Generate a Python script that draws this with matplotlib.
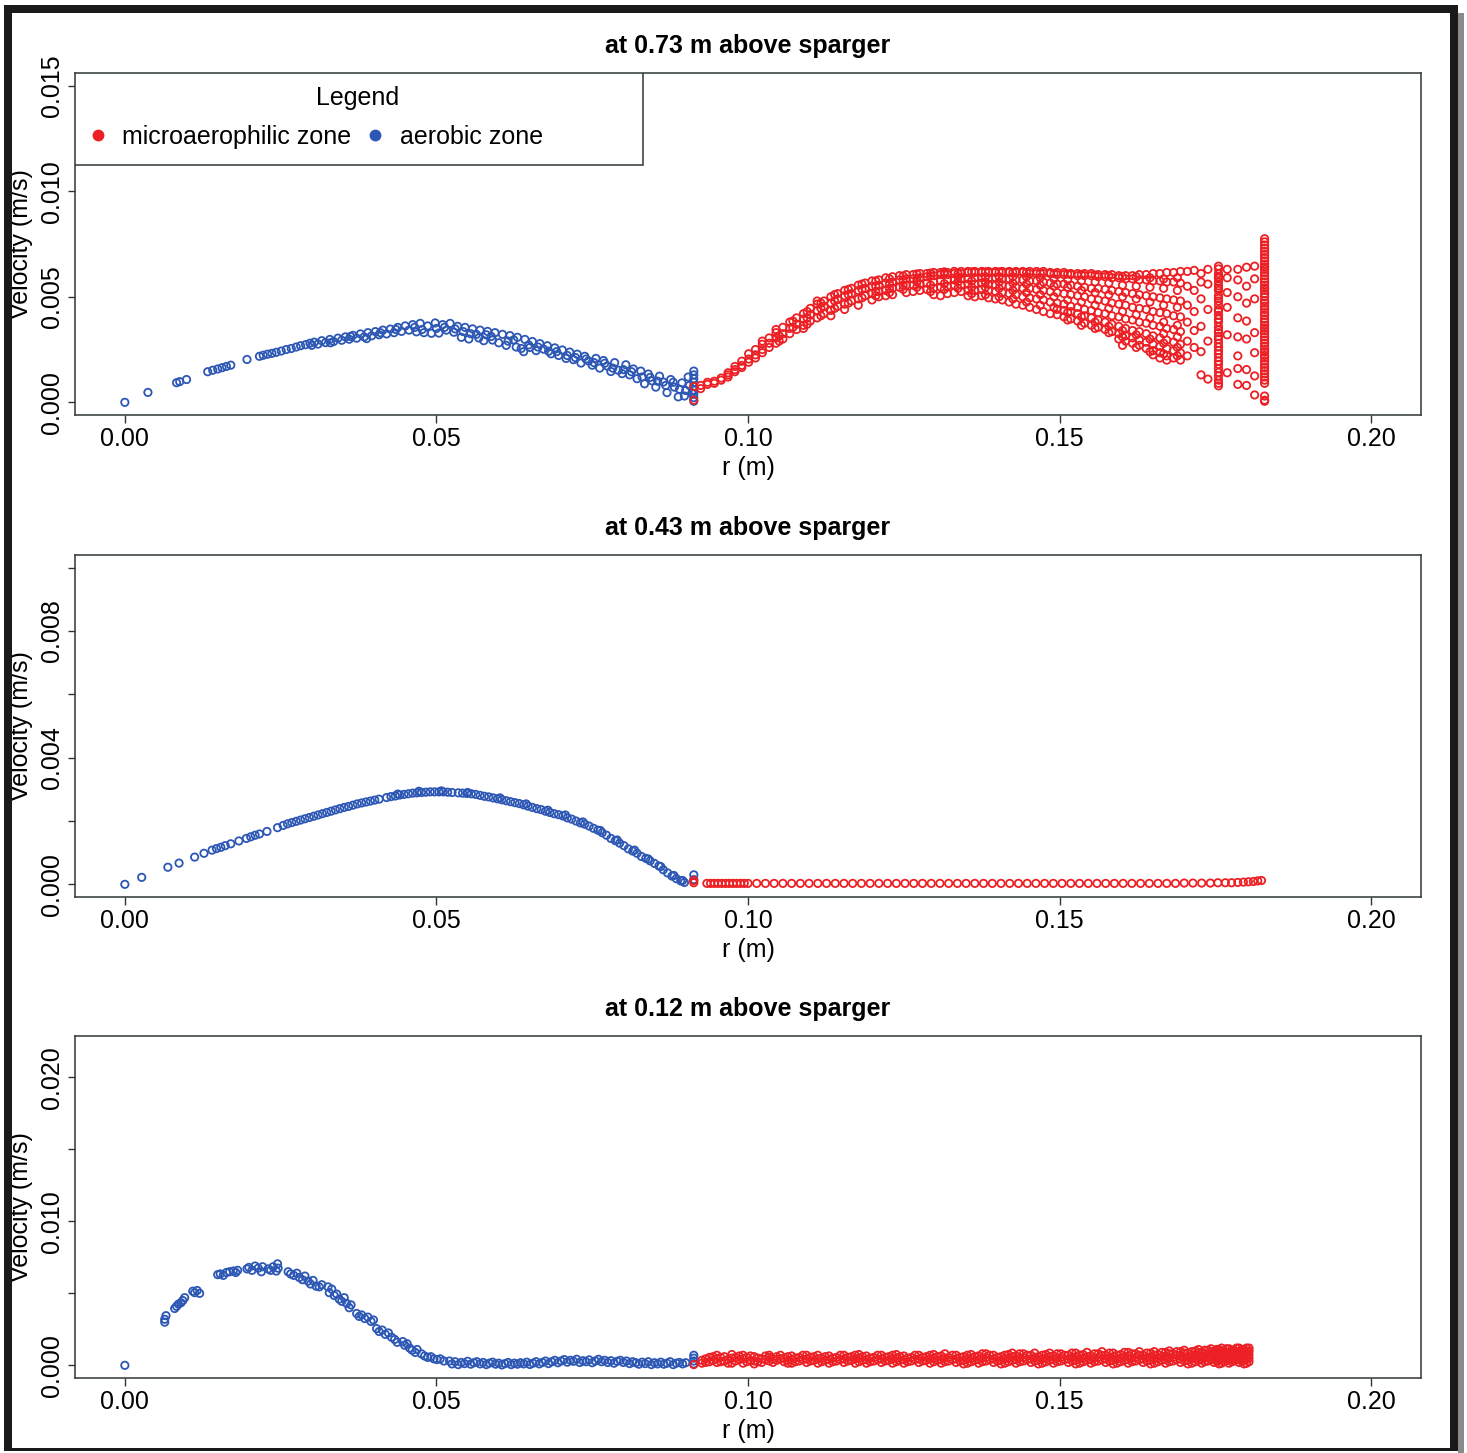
import matplotlib
matplotlib.use("Agg")
import matplotlib.pyplot as plt
from matplotlib.lines import Line2D
from matplotlib.patches import Rectangle

plt.rcParams["font.family"] = ["Liberation Sans", "DejaVu Sans"]

# radial position r in mm, axial velocity in mm/s (converted to SI when drawn)

# 0.73 m above sparger
TOP_AEROBIC = [
    (0.0, 0.00), (3.7, 0.47), (8.3, 0.93), (8.8, 0.98), (9.9, 1.08),
    (13.3, 1.45), (14.1, 1.52), (14.9, 1.58), (15.6, 1.64), (16.3, 1.70), (17.0, 1.76),
    (19.6, 2.03), (21.6, 2.18), (22.2, 2.23), (22.9, 2.28), (23.6, 2.32), (24.3, 2.37), (25.1, 2.43),
    (25.9, 2.50), (26.7, 2.55), (27.5, 2.62), (28.2, 2.68), (29.0, 2.73), (29.7, 2.80), (30.4, 2.85),
    (31.0, 2.76), (31.6, 2.92), (32.2, 2.83), (32.9, 2.98), (33.5, 2.88), (34.2, 3.04), (34.8, 2.94),
    (35.4, 3.10), (36.0, 2.99), (36.6, 3.17), (37.2, 3.04), (37.8, 3.24), (38.4, 3.10), (39.0, 3.30),
    (39.6, 3.15), (40.2, 3.35), (40.8, 3.20), (41.4, 3.42), (42.0, 3.24), (42.6, 3.47), (43.2, 3.30),
    (43.8, 3.55), (44.4, 3.36), (45.0, 3.62), (45.6, 3.42), (46.2, 3.68), (46.8, 3.34), (47.4, 3.74),
    (48.0, 3.30), (48.6, 3.62), (49.2, 3.27), (49.8, 3.76), (50.4, 3.28), (51.0, 3.68), (51.6, 3.42),
    (52.2, 3.74), (52.8, 3.32), (53.4, 3.60), (54.0, 3.08), (54.6, 3.55), (55.2, 3.00), (55.8, 3.48),
    (56.4, 3.22), (57.0, 3.42), (57.6, 2.92), (58.2, 3.36), (58.8, 3.12), (59.4, 3.30), (60.0, 2.82),
    (60.6, 3.22), (61.2, 2.70), (61.8, 3.16), (62.4, 2.96), (63.0, 3.08), (63.6, 2.55), (64.2, 2.98),
    (64.8, 2.72), (65.4, 2.88), (66.0, 2.45), (66.6, 2.78), (67.2, 2.52), (67.8, 2.68), (68.4, 2.30),
    (69.0, 2.58), (69.6, 2.22), (70.2, 2.48), (70.8, 2.08), (71.4, 2.38), (72.0, 2.02), (72.6, 2.28),
    (73.2, 1.86), (73.8, 2.18), (74.4, 1.96), (75.0, 1.76), (75.6, 2.08), (76.2, 1.62), (76.8, 1.98),
    (77.4, 1.72), (78.0, 1.46), (78.6, 1.88), (79.2, 1.52), (79.8, 1.36), (80.4, 1.78), (81.0, 1.30),
    (81.6, 1.58), (82.2, 1.12), (82.8, 1.48), (83.4, 0.88), (84.0, 1.34), (84.6, 1.02), (85.2, 0.72),
    (85.8, 1.24), (86.4, 0.96), (87.0, 0.46), (87.6, 1.08), (88.2, 0.72), (88.8, 0.26), (89.4, 0.92),
    (90.0, 0.56), (90.4, 1.20),
    (30.0, 2.70), (33.0, 2.82), (36.2, 3.12), (38.8, 3.02), (41.0, 3.30), (43.5, 3.45),
    (46.5, 3.55), (47.7, 3.45), (50.0, 3.50), (51.3, 3.55), (53.0, 3.48), (54.3, 3.35),
    (55.5, 3.25), (56.8, 3.05), (58.0, 3.20), (59.0, 2.95), (61.5, 2.90), (62.8, 2.62),
    (64.0, 2.40), (65.0, 2.60), (66.3, 2.62), (68.0, 2.42), (69.3, 2.40), (71.0, 2.22),
    (72.3, 2.12), (74.0, 2.05), (75.3, 1.88), (77.0, 1.85), (78.3, 1.62), (80.0, 1.55),
    (81.3, 1.45), (83.0, 1.20), (84.3, 1.18), (85.5, 1.00), (86.8, 0.80), (88.0, 0.95),
    (89.0, 0.62), (89.8, 0.30), (90.6, 0.80), (91.0, 0.45),
    (91.3, 0.05), (91.3, 0.22), (91.3, 0.40), (91.3, 0.58), (91.3, 0.76), (91.3, 0.95),
    (91.3, 1.12), (91.3, 1.30), (91.3, 1.48),
]

# mesh columns: (r, velocities found in that column)
TOP_MICRO = [
    (91.3, [0.10, 0.75]),
    (92.4, [0.80, 0.65]),
    (93.5, [0.85, 0.95]),
    (94.6, [1.00, 0.90]),
    (95.7, [1.15, 1.05]),
    (96.8, [1.30, 1.20, 1.40]),
    (97.9, [1.55, 1.45, 1.70]),
    (99.0, [1.75, 1.65, 1.95]),
    (100.1, [2.05, 1.90, 2.30]),
    (101.2, [2.25, 2.10, 2.50]),
    (102.3, [2.50, 2.35, 2.75, 2.90]),
    (103.4, [2.80, 2.60, 3.05]),
    (104.5, [3.05, 2.80, 3.30, 3.45]),
    (105.0, [3.15, 2.90]),
    (105.6, [3.25, 3.00, 3.55]),
    (106.7, [3.50, 3.25, 3.80]),
    (107.2, [3.55, 3.85]),
    (107.8, [3.70, 3.45, 4.00]),
    (108.9, [3.95, 3.65, 4.20, 3.50]),
    (109.5, [4.00, 4.30, 3.70]),
    (110.0, [4.15, 3.85, 4.45]),
    (111.1, [4.35, 4.00, 4.65, 4.80]),
    (111.7, [4.45, 4.10, 4.70]),
    (112.2, [4.55, 4.20, 4.80]),
    (113.3, [4.70, 4.35, 5.00, 4.10]),
    (113.9, [4.80, 4.45, 5.10]),
    (114.4, [4.90, 4.55, 5.15]),
    (115.5, [5.05, 4.65, 5.30, 4.40]),
    (116.1, [5.10, 4.70, 5.35]),
    (116.6, [5.15, 4.80, 5.40]),
    (117.7, [5.30, 4.90, 5.55, 4.60]),
    (118.3, [5.35, 4.95, 5.60]),
    (118.8, [5.40, 5.05, 5.65]),
    (119.9, [5.50, 5.15, 5.75, 4.85]),
    (120.5, [5.50, 5.05, 5.75, 5.25]),
    (121.0, [5.55, 5.25, 5.80, 5.00]),
    (122.1, [5.65, 5.30, 5.90, 5.05]),
    (122.7, [5.62, 5.20, 5.85, 5.40]),
    (123.2, [5.70, 5.40, 5.95, 5.10]),
    (124.3, [5.80, 5.45, 6.00]),
    (124.9, [5.78, 5.35, 5.98, 5.55]),
    (125.4, [5.85, 5.55, 6.05, 5.20]),
    (126.5, [5.85, 5.55, 6.05, 5.25]),
    (127.1, [5.88, 5.45, 6.08, 5.70]),
    (127.6, [5.90, 5.60, 6.10, 5.30]),
    (128.7, [5.95, 5.65, 6.10, 5.35]),
    (129.3, [5.98, 5.55, 6.12, 5.25]),
    (129.8, [6.00, 5.70, 6.15, 5.40, 5.10]),
    (130.9, [6.05, 5.75, 6.15, 5.45, 5.05]),
    (131.5, [6.08, 5.62, 6.18, 5.35]),
    (132.0, [6.05, 5.80, 6.15, 5.50, 5.15]),
    (133.1, [6.10, 5.80, 6.20, 5.55, 5.20]),
    (133.7, [6.10, 5.70, 5.40, 5.95]),
    (134.2, [6.10, 5.85, 6.20, 5.55, 5.25]),
    (135.3, [6.15, 5.85, 6.20, 5.60, 5.30, 5.05]),
    (135.9, [6.18, 5.75, 5.45, 5.15]),
    (136.4, [6.15, 5.90, 6.20, 5.60, 5.30, 5.00]),
    (137.5, [6.15, 5.90, 6.20, 5.65, 5.35, 5.05]),
    (138.1, [6.18, 5.70, 5.45, 5.10, 5.95]),
    (138.6, [6.15, 5.85, 6.20, 5.60, 5.30, 4.95]),
    (139.7, [6.15, 5.90, 6.20, 5.55, 5.25, 4.90]),
    (140.3, [6.18, 5.70, 5.40, 5.00, 5.95]),
    (140.8, [6.15, 5.85, 6.20, 5.55, 5.20, 4.85]),
    (141.9, [6.15, 5.85, 6.20, 5.50, 5.15, 4.75]),
    (142.5, [6.15, 5.65, 5.30, 4.90, 5.95]),
    (143.0, [6.15, 5.80, 6.20, 5.45, 5.10, 4.65]),
    (144.1, [6.15, 5.80, 6.20, 5.40, 5.00, 4.60]),
    (144.7, [6.15, 5.60, 5.20, 4.75, 5.95]),
    (145.2, [6.10, 5.75, 6.20, 5.40, 4.95, 4.50]),
    (146.3, [6.10, 5.75, 6.20, 5.35, 4.90, 4.40]),
    (146.9, [6.12, 5.55, 5.10, 4.60, 5.90]),
    (147.4, [6.10, 5.70, 6.20, 5.30, 4.85, 4.30]),
    (148.5, [6.10, 5.65, 6.15, 5.25, 4.75, 4.20]),
    (149.1, [6.10, 5.50, 5.00, 4.50, 5.85]),
    (149.6, [6.05, 5.60, 6.15, 5.20, 4.70, 4.15, 4.40]),
    (150.7, [6.05, 5.60, 6.15, 5.15, 4.65, 4.05, 4.35]),
    (151.3, [6.08, 5.45, 4.85, 4.25, 5.80, 3.90]),
    (151.8, [6.05, 5.55, 6.10, 5.10, 4.55, 3.95, 4.30]),
    (152.9, [6.00, 5.50, 6.10, 5.05, 4.50, 3.85, 4.20]),
    (153.5, [6.05, 5.30, 4.75, 4.05, 5.75, 3.65]),
    (154.0, [6.00, 5.45, 6.10, 5.00, 4.40, 3.75, 4.10]),
    (155.1, [6.00, 5.40, 6.10, 4.90, 4.35, 3.65, 4.00]),
    (155.7, [6.02, 5.20, 4.60, 3.80, 5.70, 3.50]),
    (156.2, [5.95, 5.40, 6.05, 4.85, 4.25, 3.55, 3.90]),
    (157.3, [5.95, 5.35, 6.05, 4.80, 4.20, 3.45, 3.80]),
    (157.9, [6.00, 5.10, 4.45, 3.60, 5.65, 3.30]),
    (158.4, [5.90, 5.30, 6.05, 4.70, 4.10, 3.35, 3.70]),
    (159.5, [5.90, 5.25, 6.00, 4.65, 4.05, 3.25, 3.60, 3.00]),
    (160.1, [5.95, 5.00, 4.30, 3.40, 5.55, 3.10, 2.70]),
    (160.6, [5.85, 5.20, 6.00, 4.60, 3.95, 3.15, 3.50, 2.90]),
    (161.7, [5.85, 5.15, 6.00, 4.50, 3.90, 3.05, 3.40, 2.80]),
    (162.3, [5.95, 4.90, 4.15, 3.20, 5.50, 2.60]),
    (162.8, [5.80, 5.10, 6.05, 4.45, 3.80, 2.95, 3.35, 2.70]),
    (163.9, [5.80, 5.05, 6.05, 4.40, 3.75, 2.85, 3.25, 2.55]),
    (164.5, [5.90, 4.75, 4.00, 3.00, 5.45, 2.40]),
    (165.0, [5.75, 5.00, 6.10, 4.30, 3.65, 2.75, 3.15, 2.45, 2.25]),
    (166.1, [5.75, 4.95, 6.10, 4.25, 3.60, 2.65, 3.05, 2.35, 2.10]),
    (166.7, [5.85, 4.60, 3.80, 2.80, 5.40, 2.30, 3.25]),
    (167.2, [5.70, 4.90, 6.15, 4.20, 3.50, 2.55, 2.95, 2.20, 2.00]),
    (168.3, [5.70, 4.85, 6.15, 4.10, 3.45, 2.45, 2.85, 2.10]),
    (168.9, [5.90, 4.50, 3.65, 2.60, 5.30, 2.20, 3.10]),
    (169.4, [5.65, 4.80, 6.20, 4.05, 3.35, 2.35, 2.75, 2.00]),
    (170.5, [6.20, 5.50, 4.60, 3.80, 2.90, 2.20]),
    (171.6, [6.25, 5.30, 4.30, 3.40, 2.60]),
    (172.7, [6.10, 5.70, 4.90, 3.60, 2.40, 1.30]),
    (173.8, [6.30, 5.60, 4.40, 2.90, 1.10]),
    (175.5, [6.45, 6.32, 6.10, 5.95, 5.88, 5.70, 5.52, 5.41, 5.30, 5.05, 4.92, 4.80,
             4.61, 4.40, 4.31, 4.12, 3.95, 3.80, 3.58, 3.42, 3.30, 3.12, 2.98, 2.80,
             2.62, 2.45, 2.30, 2.12, 1.95, 1.80, 1.60, 1.42, 1.25, 1.05, 0.90, 0.78]),
    (176.9, [6.30, 5.90, 5.20, 4.50, 3.20, 1.40]),
    (178.6, [6.30, 5.80, 5.00, 4.00, 3.10, 2.20, 1.60, 0.85]),
    (180.0, [6.40, 5.50, 4.70, 3.85, 3.00, 1.55, 0.80]),
    (181.3, [6.45, 5.85, 4.90, 3.30, 2.35, 1.25, 0.35]),
    (182.9, [7.75, 7.60, 7.45, 7.30, 7.15, 7.00, 6.85, 6.70, 6.55, 6.42, 6.30, 6.15,
             6.00, 5.85, 5.70, 5.55, 5.42, 5.30, 5.15, 5.00, 4.82, 4.70, 4.55, 4.40,
             4.25, 4.12, 3.95, 3.80, 3.65, 3.52, 3.40, 3.25, 3.10, 2.95, 2.80, 2.65,
             2.50, 2.38, 2.22, 2.10, 1.95, 1.80, 1.65, 1.50, 1.35, 1.20, 1.05, 0.90,
             0.30, 0.10, 0.05]),
]

# 0.43 m above sparger
MID_AEROBIC = [
    (0.0, 0.00), (2.7, 0.22), (6.9, 0.54), (8.7, 0.67), (11.2, 0.86), (12.7, 0.98),
    (14.0, 1.08), (14.7, 1.13), (15.4, 1.17), (16.1, 1.22), (17.0, 1.28), (18.3, 1.37),
    (19.5, 1.45), (20.2, 1.50), (20.9, 1.55), (21.6, 1.59), (22.8, 1.67), (24.5, 1.79),
    (25.4, 1.86), (26.1, 1.91), (26.8, 1.95), (27.5, 1.99), (28.2, 2.03), (28.9, 2.07),
    (29.6, 2.11), (30.3, 2.15), (31.0, 2.19), (31.7, 2.23), (32.4, 2.27), (33.1, 2.31),
    (33.8, 2.35), (34.5, 2.39), (35.2, 2.43), (35.9, 2.46), (36.6, 2.50), (37.3, 2.54),
    (38.0, 2.57), (38.7, 2.60), (39.4, 2.63), (40.1, 2.66), (40.8, 2.69), (42.0, 2.74),
    (42.7, 2.77), (43.4, 2.79), (44.1, 2.82), (44.8, 2.84), (45.5, 2.86), (46.2, 2.88),
    (46.9, 2.89), (47.6, 2.90), (48.3, 2.91), (49.0, 2.92), (49.7, 2.92), (50.4, 2.92),
    (51.1, 2.92), (51.8, 2.91), (52.5, 2.90), (53.5, 2.89), (54.2, 2.88), (54.9, 2.87),
    (55.6, 2.86), (56.3, 2.84), (57.0, 2.81), (57.7, 2.78), (58.4, 2.76), (59.1, 2.73),
    (59.8, 2.70), (60.5, 2.67), (61.2, 2.64), (61.9, 2.61), (62.6, 2.58), (63.3, 2.55),
    (64.0, 2.51), (64.7, 2.47), (65.4, 2.43), (66.1, 2.39), (66.8, 2.36), (67.5, 2.31),
    (68.2, 2.27), (68.9, 2.23), (69.6, 2.20), (70.3, 2.16), (71.0, 2.10), (71.7, 2.06),
    (72.4, 2.00), (73.1, 1.94), (73.8, 1.90), (74.5, 1.84), (75.2, 1.77), (75.9, 1.71),
    (76.6, 1.63), (77.3, 1.55), (78.0, 1.45), (78.7, 1.38), (79.4, 1.30), (80.1, 1.22),
    (80.8, 1.12), (81.5, 1.05), (82.2, 0.98), (82.9, 0.88), (83.6, 0.82), (84.3, 0.74),
    (85.0, 0.66), (85.7, 0.58), (86.4, 0.46), (87.1, 0.36), (87.8, 0.26), (88.5, 0.18),
    (89.2, 0.11), (89.8, 0.06), (91.3, 0.15), (91.3, 0.30),
    (43.8, 2.85), (47.2, 2.94), (50.8, 2.95), (55.0, 2.90), (60.2, 2.73), (64.4, 2.54),
    (67.9, 2.34), (70.7, 2.19), (73.5, 1.97), (76.3, 1.70), (79.0, 1.40), (81.8, 1.08),
    (84.0, 0.80), (86.0, 0.56), (88.1, 0.28), (89.5, 0.12),
]

MID_MICRO = [
    (91.3, 0.05), (91.3, 0.12), (93.4, 0.03), (94.0, 0.03), (94.6, 0.03), (95.2, 0.03),
    (95.8, 0.03), (96.4, 0.03), (97.0, 0.03), (97.6, 0.03), (98.2, 0.03), (98.8, 0.03),
    (99.4, 0.03), (100.0, 0.03), (101.4, 0.03), (102.8, 0.03), (104.2, 0.03), (105.6, 0.03),
    (107.0, 0.03), (108.4, 0.03), (109.8, 0.03), (111.2, 0.03), (112.6, 0.03), (114.0, 0.03),
    (115.4, 0.03), (116.8, 0.03), (118.2, 0.03), (119.6, 0.03), (121.0, 0.03), (122.4, 0.03),
    (123.8, 0.03), (125.2, 0.03), (126.6, 0.03), (128.0, 0.03), (129.4, 0.03), (130.8, 0.03),
    (132.2, 0.03), (133.6, 0.03), (135.0, 0.03), (136.4, 0.03), (137.8, 0.03), (139.2, 0.03),
    (140.6, 0.03), (142.0, 0.03), (143.4, 0.03), (144.8, 0.03), (146.2, 0.03), (147.6, 0.03),
    (149.0, 0.03), (150.4, 0.03), (151.8, 0.03), (153.2, 0.03), (154.6, 0.03), (156.0, 0.03),
    (157.4, 0.03), (158.8, 0.03), (160.2, 0.03), (161.6, 0.03), (163.0, 0.03), (164.4, 0.03),
    (165.8, 0.03), (167.2, 0.03), (168.6, 0.03), (170.0, 0.04), (171.4, 0.04), (172.8, 0.04),
    (174.2, 0.04), (175.4, 0.05), (176.6, 0.05), (177.6, 0.05), (178.6, 0.06), (179.5, 0.07),
    (180.3, 0.08), (181.1, 0.09), (181.8, 0.11), (182.4, 0.12),
]

# 0.12 m above sparger
LOW_AEROBIC = [
    (0.0, 0.00), (6.4, 3.00), (6.4, 3.20), (6.6, 3.45),
    (8.0, 3.95), (8.3, 4.10), (8.6, 4.25), (9.0, 4.35), (9.3, 4.50), (9.6, 4.70),
    (10.9, 5.15), (11.2, 5.05), (11.6, 5.20), (12.0, 5.00),
    (14.9, 6.30), (15.3, 6.35), (15.8, 6.25), (16.3, 6.45), (16.8, 6.50), (17.4, 6.55),
    (17.8, 6.45), (18.1, 6.60), (19.6, 6.70), (19.9, 6.80), (20.4, 6.60), (20.9, 6.90),
    (21.4, 6.75), (21.9, 6.50), (22.1, 6.85), (23.0, 6.70), (23.4, 6.60), (23.8, 6.85),
    (24.3, 6.55), (24.5, 7.05), (24.6, 6.75),
    (26.2, 6.50), (26.6, 6.35), (27.1, 6.25), (27.6, 6.40), (28.0, 6.10), (28.5, 5.95),
    (28.9, 6.20), (29.4, 5.85), (29.8, 5.65), (30.2, 5.90), (30.7, 5.50), (31.2, 5.45),
    (31.6, 5.60), (32.6, 5.45), (32.8, 5.05), (33.2, 5.30), (33.6, 4.85), (34.0, 4.95),
    (34.4, 4.60), (34.8, 4.45), (35.2, 4.70), (35.6, 4.30), (36.0, 4.00), (36.3, 4.20),
    (37.2, 3.60), (37.6, 3.40), (38.0, 3.50), (38.5, 3.25), (39.0, 3.35), (39.5, 3.05),
    (39.9, 3.15), (40.4, 2.55), (40.8, 2.35), (41.3, 2.45), (41.8, 2.15), (42.3, 2.25),
    (42.8, 1.95), (43.3, 1.80), (43.7, 1.60), (44.6, 1.65), (44.9, 1.40), (45.3, 1.50),
    (45.7, 1.20), (46.1, 1.05), (46.6, 0.90), (46.9, 1.10), (47.6, 0.80), (48.1, 0.65),
    (48.6, 0.55), (49.1, 0.60), (49.6, 0.45), (50.1, 0.40), (50.6, 0.45), (51.2, 0.30),
    (52.1, 0.30), (52.5, 0.10), (53.0, 0.25), (53.5, 0.05), (54.0, 0.20), (54.5, 0.12),
    (55.0, 0.28), (55.5, 0.08), (56.0, 0.18), (56.5, 0.25), (57.0, 0.10), (57.5, 0.20),
    (58.0, 0.05), (58.5, 0.15), (59.0, 0.22), (59.5, 0.08), (60.0, 0.15), (60.5, 0.03),
    (61.0, 0.12), (61.5, 0.20), (62.0, 0.05), (62.5, 0.15), (63.0, 0.08), (63.5, 0.18),
    (64.0, 0.10), (64.5, 0.22), (65.0, 0.06), (65.5, 0.15), (66.0, 0.25), (66.5, 0.10),
    (67.0, 0.20), (67.5, 0.30), (68.0, 0.12), (68.5, 0.25), (69.0, 0.35), (69.5, 0.18),
    (70.0, 0.30), (70.5, 0.40), (71.0, 0.22), (71.5, 0.35), (72.0, 0.28), (72.5, 0.42),
    (73.0, 0.20), (73.5, 0.32), (74.0, 0.25), (74.5, 0.38), (75.0, 0.18), (75.5, 0.30),
    (76.0, 0.42), (76.5, 0.25), (77.0, 0.35), (77.5, 0.20), (78.0, 0.32), (78.5, 0.15),
    (79.0, 0.28), (79.5, 0.35), (80.0, 0.20), (80.5, 0.30), (81.0, 0.12), (81.5, 0.25),
    (82.0, 0.18), (82.5, 0.08), (83.0, 0.22), (83.5, 0.12), (84.0, 0.25), (84.5, 0.05),
    (85.0, 0.18), (85.5, 0.10), (86.0, 0.22), (86.5, 0.08), (87.0, 0.15), (87.5, 0.25),
    (88.0, 0.05), (88.5, 0.15), (89.0, 0.20), (89.5, 0.10), (90.0, 0.18),
    (91.3, 0.10), (91.3, 0.30), (91.3, 0.50), (91.3, 0.70),
]

LOW_MICRO = [
    (91.3, [0.05]),
    (92.6, [0.35, 0.15]), (93.2, [0.45, 0.20]),
    (93.8, [0.55, 0.25]), (94.4, [0.35, 0.60]),
    (95.0, [0.45, 0.70, 0.20]), (95.6, [0.25, 0.55]),
    (96.2, [0.60, 0.30]), (96.8, [0.40, 0.15]),
    (97.4, [0.50, 0.75, 0.15]), (98.0, [0.30, 0.55]),
    (98.6, [0.40, 0.65]), (99.2, [0.45, 0.15, 0.70]),
    (99.8, [0.55, 0.25]), (100.4, [0.35, 0.65]),
    (101.0, [0.30, 0.60, 0.10]), (101.6, [0.50, 0.25]),
    (102.2, [0.45, 0.20]), (102.8, [0.40, 0.65]),
    (103.4, [0.55, 0.30, 0.70]), (104.0, [0.20, 0.45]),
    (104.6, [0.35, 0.60]), (105.2, [0.45, 0.70]),
    (105.8, [0.25, 0.50]), (106.4, [0.35, 0.15, 0.60]),
    (107.0, [0.40, 0.65, 0.15]), (107.6, [0.50, 0.25]),
    (108.2, [0.55, 0.30]), (108.8, [0.40, 0.70]),
    (109.4, [0.45, 0.20, 0.70]), (110.0, [0.30, 0.55]),
    (110.6, [0.35, 0.60]), (111.2, [0.45, 0.15, 0.70]),
    (111.8, [0.50, 0.25]), (112.4, [0.35, 0.60]),
    (113.0, [0.40, 0.65, 0.15]), (113.6, [0.50, 0.25]),
    (114.2, [0.55, 0.30]), (114.8, [0.40, 0.70]),
    (115.4, [0.45, 0.70, 0.20]), (116.0, [0.30, 0.55]),
    (116.6, [0.35, 0.60]), (117.2, [0.45, 0.15, 0.70]),
    (117.8, [0.25, 0.50, 0.75]), (118.4, [0.35, 0.60]),
    (119.0, [0.40, 0.65, 0.15]), (119.6, [0.50, 0.25]),
    (120.2, [0.30, 0.55]), (120.8, [0.40, 0.70]),
    (121.4, [0.45, 0.70, 0.20]), (122.0, [0.30, 0.55]),
    (122.6, [0.35, 0.60]), (123.2, [0.45, 0.15, 0.70]),
    (123.8, [0.50, 0.25, 0.75]), (124.4, [0.35, 0.60]),
    (125.0, [0.40, 0.65, 0.15]), (125.6, [0.50, 0.25]),
    (126.2, [0.55, 0.30]), (126.8, [0.40, 0.70]),
    (127.4, [0.45, 0.70, 0.20]), (128.0, [0.30, 0.55]),
    (128.6, [0.35, 0.60]), (129.2, [0.45, 0.15, 0.70]),
    (129.8, [0.50, 0.25, 0.75]), (130.4, [0.35, 0.60]),
    (131.0, [0.40, 0.65, 0.15]), (131.6, [0.50, 0.25, 0.80]),
    (132.2, [0.55, 0.30]), (132.8, [0.40, 0.70]),
    (133.4, [0.45, 0.70, 0.20]), (134.0, [0.30, 0.55]),
    (134.6, [0.35, 0.60, 0.10]), (135.2, [0.45, 0.15, 0.70]),
    (135.8, [0.50, 0.25, 0.75]), (136.4, [0.35, 0.60]),
    (137.0, [0.40, 0.65, 0.15]), (137.6, [0.50, 0.25, 0.80]),
    (138.2, [0.55, 0.30, 0.80]), (138.8, [0.40, 0.70]),
    (139.4, [0.45, 0.70, 0.20]), (140.0, [0.30, 0.55]),
    (140.6, [0.35, 0.60, 0.10]), (141.2, [0.45, 0.15, 0.70]),
    (141.8, [0.50, 0.25, 0.75]), (142.4, [0.35, 0.60, 0.85]),
    (143.0, [0.40, 0.65, 0.15]), (143.6, [0.50, 0.25, 0.80]),
    (144.2, [0.55, 0.30, 0.80]), (144.8, [0.40, 0.70]),
    (145.4, [0.45, 0.70, 0.20]), (146.0, [0.30, 0.55, 0.85]),
    (146.6, [0.35, 0.60, 0.10]), (147.2, [0.45, 0.15, 0.70]),
    (147.8, [0.50, 0.25, 0.75]), (148.4, [0.35, 0.60, 0.85]),
    (149.0, [0.40, 0.65, 0.15]), (149.6, [0.50, 0.25, 0.80]),
    (150.2, [0.55, 0.30, 0.80]), (150.8, [0.40, 0.70]),
    (151.4, [0.45, 0.70, 0.20]), (152.0, [0.30, 0.55, 0.85]),
    (152.6, [0.35, 0.60, 0.10, 0.85]), (153.2, [0.45, 0.15, 0.70]),
    (153.8, [0.50, 0.25, 0.75]), (154.4, [0.35, 0.60, 0.90]),
    (155.0, [0.40, 0.65, 0.15]), (155.6, [0.50, 0.25, 0.80]),
    (156.2, [0.55, 0.30, 0.80]), (156.8, [0.40, 0.70, 0.95]),
    (157.4, [0.45, 0.70, 0.20]), (158.0, [0.30, 0.55, 0.85]),
    (158.6, [0.35, 0.60, 0.10, 0.85]), (159.2, [0.45, 0.15, 0.70]),
    (159.8, [0.50, 0.25, 0.75]), (160.4, [0.35, 0.60, 0.90]),
    (161.0, [0.40, 0.65, 0.15, 0.90]), (161.6, [0.50, 0.25, 0.80]),
    (162.2, [0.55, 0.30, 0.80]), (162.8, [0.40, 0.70, 0.95]),
    (163.4, [0.45, 0.70, 0.20]), (164.0, [0.30, 0.55, 0.85]),
    (164.6, [0.35, 0.60, 0.10, 0.85]), (165.2, [0.45, 0.15, 0.70, 0.95]),
    (165.8, [0.50, 0.25, 0.75]), (166.4, [0.35, 0.60, 0.90]),
    (167.0, [0.40, 0.65, 0.15, 0.90]), (167.6, [0.50, 0.25, 0.80, 1.00]),
    (168.2, [0.55, 0.30, 0.80]), (168.8, [0.40, 0.70, 0.95]),
    (169.4, [0.45, 0.70, 0.20, 0.95]), (170.0, [0.30, 0.55, 0.85, 1.05]),
    (170.6, [0.35, 0.60, 0.10, 0.85]), (171.2, [0.45, 0.15, 0.70, 0.95]),
    (171.8, [0.50, 0.25, 0.75, 1.00]), (172.3, [0.35, 0.60, 0.90, 1.10]),
    (172.8, [0.40, 0.65, 0.15, 0.90]), (173.3, [0.50, 0.25, 0.80, 1.05]),
    (173.8, [0.55, 0.30, 0.80, 1.05]), (174.3, [0.40, 0.70, 0.95, 1.15]),
    (174.8, [0.45, 0.70, 0.20, 0.95]), (175.2, [0.30, 0.55, 0.85, 1.10]),
    (175.6, [0.35, 0.60, 0.10, 0.85, 1.10]), (176.0, [0.45, 0.15, 0.70, 0.95, 1.20]),
    (176.4, [0.50, 0.25, 0.75, 1.00]), (176.8, [0.35, 0.60, 0.90, 1.15]),
    (177.2, [0.40, 0.65, 0.15, 0.90, 1.15]), (177.6, [0.50, 0.25, 0.80, 1.05]),
    (178.0, [0.55, 0.30, 0.80, 1.05]), (178.4, [0.40, 0.70, 0.95, 1.20]),
    (178.8, [0.45, 0.70, 0.20, 0.95, 1.20]), (179.2, [0.30, 0.55, 0.85, 1.10]),
    (179.6, [0.35, 0.60, 0.10, 0.85, 1.10]), (180.0, [0.45, 0.15, 0.70, 0.95, 1.20]),
    (180.4, [0.50, 0.25, 0.75, 1.00, 1.20]),
]

TITLES = ["at 0.73 m above sparger", "at 0.43 m above sparger", "at 0.12 m above sparger"]
YLIMS = [(-0.0006, 0.0156), (-0.0004, 0.0104), (-0.00088, 0.02288)]
YTICKS = [
    [0.0, 0.005, 0.010, 0.015],
    [0.0, 0.002, 0.004, 0.006, 0.008, 0.010],
    [0.0, 0.005, 0.010, 0.015, 0.020],
]
YTICKLABELS = [
    ["0.000", "0.005", "0.010", "0.015"],
    ["0.000", "", "0.004", "", "0.008", ""],
    ["0.000", "", "0.010", "", "0.020"],
]
XTICKS = [0.0, 0.05, 0.10, 0.15, 0.20]
XTICKLABELS = ["0.00", "0.05", "0.10", "0.15", "0.20"]

BLUE = "#2c57b4"
RED = "#ec2024"
FRAME = "#2f3830"
FS = 18

W, H = 1467, 1453


def pairs(points):
    return [p[0] / 1000 for p in points], [p[1] / 1000 for p in points]


def columns(cols):
    r = [c / 1000 for c, vs in cols for _ in vs]
    v = [x / 1000 for _, vs in cols for x in vs]
    return r, v


def px_rect(fig, x0, y0, x1, y1, color):
    fig.patches.append(Rectangle((x0 / W, 1 - y1 / H), (x1 - x0) / W, (y1 - y0) / H,
                                 transform=fig.transFigure, color=color, lw=0, zorder=10))


fig = plt.figure(figsize=(W / 100, H / 100), dpi=100)

series = [
    (pairs(TOP_AEROBIC), columns(TOP_MICRO)),
    (pairs(MID_AEROBIC), pairs(MID_MICRO)),
    (pairs(LOW_AEROBIC), columns(LOW_MICRO)),
]
tops_px = [73, 555, 1036]
ax_h = 342

for i, ((rb, vb), (rr, vr)) in enumerate(series):
    top = tops_px[i]
    ax = fig.add_axes([75 / W, 1 - (top + ax_h) / H, 1346 / W, ax_h / H])
    ax.scatter(rb, vb, s=28, facecolors="none", edgecolors=BLUE, linewidths=1.3, zorder=3)
    ax.scatter(rr, vr, s=28, facecolors="none", edgecolors=RED, linewidths=1.3, zorder=4)

    ax.set_xlim(-0.008, 0.208)
    ax.set_ylim(*YLIMS[i])
    ax.set_xticks(XTICKS)
    ax.set_xticklabels(XTICKLABELS)
    ax.set_yticks(YTICKS[i])
    ax.set_yticklabels(YTICKLABELS[i], rotation=90, va="center")
    for s in ax.spines.values():
        s.set_color(FRAME)
        s.set_linewidth(1.1)
    ax.tick_params(length=5.4, width=1.0, color=FRAME, labelsize=FS, pad=3)
    ax.tick_params(axis="y", pad=2.8)

    ax.set_xlabel("r (m)", fontsize=FS)
    ax.xaxis.set_label_coords(0.5, -(468 - 415) / ax_h)
    ax.xaxis.label.set_va("center")
    ax.set_ylabel("Velocity (m/s)", fontsize=FS)
    ax.yaxis.set_label_coords(-54 / 1346, 0.5)
    ax.yaxis.label.set_va("center")

    ax.text(0.5, 1 + 27 / ax_h, TITLES[i], transform=ax.transAxes, ha="center",
            va="center", fontsize=FS, fontweight="bold")

    if i == 0:
        # legend box hugging the top-left corner of the plot
        ax.add_patch(Rectangle((0, (415 - 165) / ax_h), (643 - 75) / 1346, 1 - (415 - 165) / ax_h,
                               transform=ax.transAxes, facecolor="white", edgecolor=FRAME,
                               lw=1.1, zorder=5))
        ax.text((358 - 75) / 1346, (415 - 98) / ax_h, "Legend", transform=ax.transAxes,
                ha="center", va="center", fontsize=FS, zorder=6)
        handles = [
            Line2D([], [], ls="none", marker="o", ms=7.5, color=RED),
            Line2D([], [], ls="none", marker="o", ms=7.5, color=BLUE),
        ]
        leg = ax.legend(handles, ["microaerophilic zone", "aerobic zone"], ncol=2,
                        loc="center left", bbox_to_anchor=(10 / 1346, (415 - 137) / ax_h),
                        frameon=False, fontsize=FS, handlelength=1.0, handletextpad=0.5,
                        columnspacing=0.45, borderpad=0, borderaxespad=0)
        leg.set_zorder(6)

# outer black frame with a soft shadow on the right
px_rect(fig, 1458, 13, 1464, 1453, "#8a8a8a")
px_rect(fig, 4, 5, 12, 1451, "#1a1a1a")
px_rect(fig, 4, 5, 1458, 13, "#1a1a1a")
px_rect(fig, 1450, 5, 1458, 1451, "#1a1a1a")
px_rect(fig, 4, 1448, 1458, 1451, "#1a1a1a")

fig.savefig("out.png", dpi=100)
